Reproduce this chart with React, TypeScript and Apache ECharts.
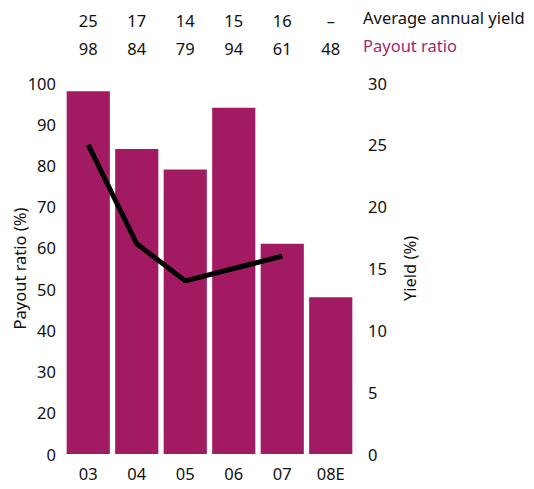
import React, { useEffect, useRef } from "react";
import * as echarts from "echarts";

const categories = ["03", "04", "05", "06", "07", "08E"];
const payoutRatio = [98, 84, 79, 94, 61, 48];
const yieldValues: (number | null)[] = [25, 17, 14, 15, 16, null];
const yieldRowLabels = ["25", "17", "14", "15", "16", "–"];
const payoutRowLabels = ["98", "84", "79", "94", "61", "48"];

const FONT = "'Noto Sans', 'Open Sans', sans-serif";
const MAGENTA = "#A21A62";
const FS = 16.5;

export default function App() {
  const ref = useRef<HTMLDivElement>(null);
  useEffect(() => {
    if (!ref.current) return;
    const chart = echarts.init(ref.current, undefined, { renderer: "svg" });
    const hiddenAxis = { axisLine: { show: false }, axisTick: { show: false }, splitLine: { show: false } };
    chart.setOption({
      animation: false,
      textStyle: { fontFamily: FONT },
      grid: { left: 64, right: 179, top: 83, bottom: 35, outerBoundsMode: "none", containLabel: false },
      xAxis: [
        {
          type: "category",
          data: categories,
          ...hiddenAxis,
          axisLabel: { color: "#111", fontSize: FS, margin: 11, fontFamily: FONT },
        },
        {
          type: "category",
          data: payoutRowLabels,
          position: "top",
          offset: 26,
          ...hiddenAxis,
          axisLabel: { color: "#111", fontSize: FS, margin: 0, fontFamily: FONT },
        },
        {
          type: "category",
          data: yieldRowLabels,
          position: "top",
          offset: 54,
          ...hiddenAxis,
          axisLabel: { color: "#111", fontSize: FS, margin: 0, fontFamily: FONT },
        },
      ],
      yAxis: [
        {
          type: "value",
          min: 10,
          max: 100,
          interval: 10,
          ...hiddenAxis,
          axisLabel: {
            color: "#111",
            fontSize: FS,
            margin: 8,
            fontFamily: FONT,
            formatter: (v: number) => (v === 10 ? "0" : String(v)),
          },
          name: "Payout ratio (%)",
          nameLocation: "middle",
          nameGap: 36,
          nameRotate: 90,
          nameMoveOverlap: false,
          nameTextStyle: { color: "#111", fontSize: FS, fontFamily: FONT },
        },
        {
          type: "value",
          min: 0,
          max: 30,
          interval: 5,
          position: "right",
          ...hiddenAxis,
          axisLabel: { color: "#111", fontSize: FS, margin: 13, fontFamily: FONT },
          name: "Yield (%)",
          nameLocation: "middle",
          nameGap: 46,
          nameRotate: 90,
          nameTextStyle: { color: "#111", fontSize: FS, fontFamily: FONT },
        },
      ],
      graphic: [
        {
          type: "text",
          left: 363,
          top: 9,
          style: { text: "Average annual yield", fill: "#111", fontSize: FS, fontFamily: FONT },
        },
        {
          type: "text",
          left: 363,
          top: 37,
          style: { text: "Payout ratio", fill: "#A3286D", fontSize: FS, fontFamily: FONT },
        },
      ],
      series: [
        {
          type: "bar",
          data: payoutRatio,
          xAxisIndex: 0,
          yAxisIndex: 0,
          barCategoryGap: "11%",
          itemStyle: { color: MAGENTA },
        },
        {
          type: "line",
          data: yieldValues,
          xAxisIndex: 0,
          yAxisIndex: 1,
          showSymbol: false,
          symbol: "none",
          lineStyle: { color: "#000", width: 5 },
        },
      ],
    });
    return () => chart.dispose();
  }, []);
  return (
    <div
      ref={ref}
      style={{ position: "fixed", left: 0, top: 0, width: 534, height: 489, background: "#fff" }}
    />
  );
}
